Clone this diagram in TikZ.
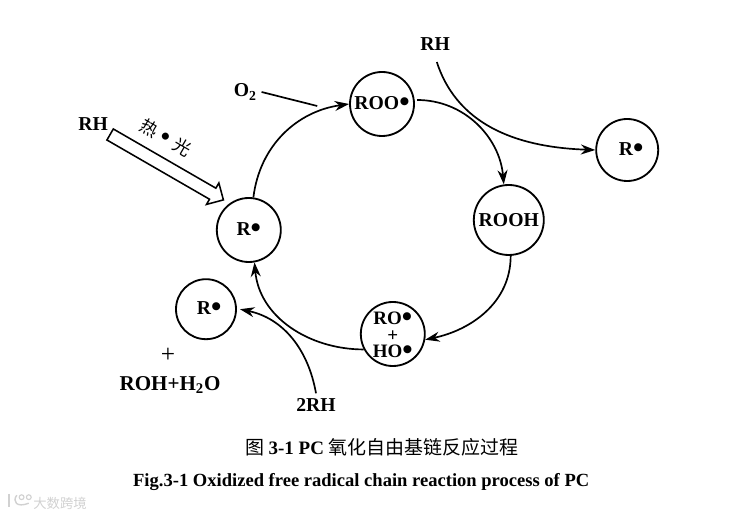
\documentclass[tikz,border=0pt]{standalone}
\usepackage{fontspec}
\setmainfont{Liberation Serif}
\newfontfamily\cjk{Noto Sans CJK SC}
\usetikzlibrary{arrows.meta,shapes.arrows}
\newcommand{\rad}{\raisebox{-1.5pt}{\fontsize{21}{21}\selectfont\textbullet}}
\tikzset{
  site/.style={circle,draw,line width=1.3pt,inner sep=0pt},
  chem/.style={font=\fontsize{14}{15}\selectfont\bfseries},
  flow/.style={line width=1.2pt,-{Stealth[length=3.6mm,width=2.5mm]}},
}
\begin{document}
\begin{tikzpicture}[every label/.style={font=\fontsize{14}{15}\selectfont\bfseries,align=center}]
  \useasboundingbox (0,0) rectangle (18.35,12.9);
  % radicals on the cycle
  \node[site,minimum size=1.6cm,label={center:ROO\rad}] (roo) at (9.55,10.3) {};
  \node[site,minimum size=1.75cm,label={center:ROOH}] (rooh) at (12.72,7.4) {};
  \node[site,minimum size=1.6cm,label={[yshift=-0.05cm,font=\fontsize{13.5}{11.8}\selectfont\bfseries]center:RO\rad\\+\\HO\rad}] (roho) at (9.82,4.55) {};
  \node[site,minimum size=1.6cm,label={center:R\rad}] (r) at (6.22,7.15) {};
  % side products
  \node[site,minimum size=1.55cm,label={[xshift=0.1cm]center:R\rad}] (rright) at (15.68,9.15) {};
  \node[site,minimum size=1.5cm,label={[xshift=0.08cm]center:R\rad}] (rleft) at (5.15,5.17) {};
  \node[chem] (rhtop) at (10.88,11.8) {RH};
  \node[chem] (rhleft) at (2.33,9.8) {RH};
  \node[chem] (otwo) at (6.13,10.6) {O\textsubscript{2}};
  \node[font=\fontsize{18}{18}\selectfont] (plus) at (4.2,4.02) {+};
  \node[chem,font=\fontsize{15}{15}\selectfont\bfseries] (rohwater) at (4.25,3.28) {ROH+H\textsubscript{2}O};
  \node[chem] (tworh) at (7.9,2.78) {2RH};
  \coordinate (roostart) at (10.43,10.4);
  \coordinate (rhstart) at (10.92,11.35);
  \coordinate (rlefttip) at (6.0,5.17);
  \coordinate (otwoend) at (7.93,10.25);
  % the cycle
  \draw[flow] (r.82) to[out=83,in=-172] (roo.west);
  \draw[flow] (roostart) to[out=0,in=95] (rooh.98);
  \draw[flow] (rooh.-87) to[out=-90,in=12] (roho.-10);
  \draw[flow] (roho.208) to[out=180,in=-85] (r.-80);
  % branches
  \draw[line width=1.2pt] (otwo.east) -- (otwoend);
  \draw[flow] (rhstart) to[out=-72,in=178] (rright.west);
  \draw[flow] (tworh.north) to[out=100,in=-12] (rlefttip);
  % hollow arrow with its label
  \node[draw,single arrow,line width=1.1pt,fill=white,rotate=-30,minimum height=3.27cm,
        inner sep=0.14cm,single arrow head extend=0.15cm,
        single arrow head indent=0pt] (heat) at (4.1,8.76) {};
  \node[rotate=-30,font=\fontsize{12.5}{12}\selectfont] (heatlabel) at (4.14,9.45) {\cjk 热\hspace{0.3em}{\rmfamily\rad}\hspace{0.3em}光};
  % captions
  \node[font=\fontsize{13.5}{14}\selectfont] (captioncn) at (9.55,1.72) {\cjk 图 \rmfamily\bfseries 3-1 PC \cjk\mdseries 氧化自由基链反应过程};
  \node[font=\fontsize{13.2}{14}\selectfont\bfseries] (captionen) at (9.03,0.85) {Fig.3-1 Oxidized free radical chain reaction process of PC};
  % watermark
  \node[text=black!18,font=\fontsize{9.5}{10}\selectfont] (mark) at (1.5,0.32) {\cjk 大数跨境};
  \draw[black!18,line width=1pt] (0.22,0.55) -- (0.22,0.22);
  \draw[black!18,line width=1pt] (0.42,0.52) .. controls (0.3,0.36) and (0.42,0.2) .. (0.72,0.32);
  \draw[black!18,line width=0.8pt] (0.54,0.47) circle (0.06) (0.72,0.47) circle (0.06);
\end{tikzpicture}
\end{document}
